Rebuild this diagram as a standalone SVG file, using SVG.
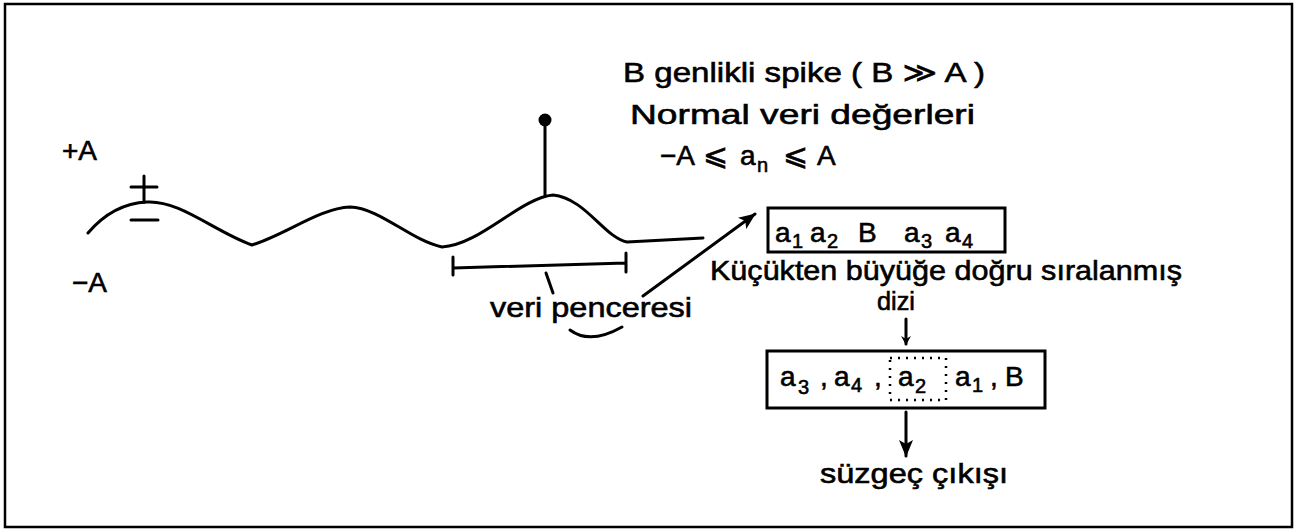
<svg xmlns="http://www.w3.org/2000/svg" width="1304" height="531" viewBox="0 0 1304 531">
<defs>
<style>
.t{font-family:"Liberation Sans","DejaVu Sans",sans-serif;font-size:28px;fill:#000;stroke:#000;stroke-width:0.6}
.ln{fill:none;stroke:#000;stroke-width:3;stroke-linecap:round;stroke-linejoin:round}
.bx{fill:none;stroke:#000;stroke-width:3}
.sub{font-size:20px}
.rel{font-family:"DejaVu Sans",sans-serif;font-size:30px}
</style>
<marker id="ah" markerWidth="10" markerHeight="10" refX="8" refY="5" orient="auto" markerUnits="userSpaceOnUse">
<path d="M0,0 L9,5 L0,10 L3,5 Z" fill="#000"/>
</marker>
<marker id="ah2" markerWidth="18" markerHeight="16" refX="16" refY="8" orient="auto" markerUnits="userSpaceOnUse">
<path d="M0,1 L17,8 L0,15 L4,8 Z" fill="#000"/>
</marker>
</defs>
<rect x="5" y="4" width="1287" height="523" fill="#fff" stroke="#000" stroke-width="2.5"/>

<g id="labels">
<text class="t" x="62" y="160">+A</text>
<text class="t" x="72" y="292">−A</text>
<text class="t" x="623" y="82" textLength="362" lengthAdjust="spacingAndGlyphs">B genlikli spike ( B ≫ A )</text>
<text class="t" x="630" y="124" textLength="345" lengthAdjust="spacingAndGlyphs">Normal veri değerleri</text>
<text class="t" y="165"><tspan x="660">−A</tspan><tspan class="rel" x="703">⩽</tspan><tspan x="740">a</tspan><tspan class="sub" x="757" dy="7">n</tspan><tspan class="rel" x="783" dy="-7">⩽</tspan><tspan x="817">A</tspan></text>
</g>

<g id="signal">
<path class="ln" d="M88,233 C105,213 125,203 147,202 C180,200 215,232 252,245 C285,235 320,208 350,207 C380,208 410,240 442,247 C480,245 520,198 553,195 C585,198 605,238 627,242 L703,238"/>
<line class="ln" x1="545" y1="126" x2="545" y2="196"/>
<circle cx="545" cy="120" r="6.5" fill="#000"/>
<g id="plusminus">
<line class="ln" x1="131" y1="187" x2="157" y2="187"/>
<line class="ln" x1="144" y1="176" x2="144" y2="202"/>
<line class="ln" x1="131" y1="220" x2="158" y2="220"/>
</g>
</g>

<g id="window">
<path class="ln" d="M453,268 L626,263 M453,257 L453,275 M626,253 L626,272"/>
<line class="ln" x1="546" y1="273" x2="553" y2="293"/>
<text class="t" x="490" y="317" textLength="202" lengthAdjust="spacingAndGlyphs">veri penceresi</text>
</g>

<g id="connectors">
<path class="ln" d="M570,330 Q590,345 622,327"/>
<line class="ln" x1="643" y1="296" x2="755" y2="214" marker-end="url(#ah2)"/>
<line class="ln" x1="906" y1="319" x2="906" y2="344" marker-end="url(#ah)"/>
<line class="ln" x1="906" y1="412" x2="906" y2="456" marker-end="url(#ah2)"/>
</g>

<g id="box1">
<rect class="bx" x="768" y="208" width="237" height="44"/>
<text class="t" y="242"><tspan x="775">a</tspan><tspan class="sub" x="792" dy="6">1</tspan><tspan x="810" dy="-6">a</tspan><tspan class="sub" x="827" dy="6">2</tspan><tspan x="858" dy="-6">B</tspan><tspan x="904">a</tspan><tspan class="sub" x="921" dy="6">3</tspan><tspan x="945" dy="-6">a</tspan><tspan class="sub" x="962" dy="6">4</tspan></text>
</g>

<g id="sortlabel">
<text class="t" x="710" y="280" textLength="472" lengthAdjust="spacingAndGlyphs">Küçükten büyüğe doğru sıralanmış</text>
<text class="t" x="877" y="310" style="font-size:26px" textLength="38" lengthAdjust="spacingAndGlyphs">dizi</text>
</g>

<g id="box2">
<rect class="bx" x="767" y="351" width="278" height="57"/>
<rect x="890" y="358" width="56" height="42" fill="none" stroke="#000" stroke-width="2.5" stroke-dasharray="2,6"/>
<text class="t" y="386"><tspan x="780">a</tspan><tspan class="sub" x="798" dy="8">3</tspan><tspan x="820" dy="-8">,</tspan><tspan x="834">a</tspan><tspan class="sub" x="851" dy="6">4</tspan><tspan x="874" dy="-6">,</tspan><tspan x="898">a</tspan><tspan class="sub" x="915" dy="7">2</tspan><tspan x="955" dy="-7">a</tspan><tspan class="sub" x="972" dy="6">1</tspan><tspan x="990" dy="-6">,</tspan><tspan x="1005">B</tspan></text>
</g>

<g id="output">
<text class="t" x="820" y="483" textLength="188" lengthAdjust="spacingAndGlyphs">süzgeç çıkışı</text>
</g>
</svg>
